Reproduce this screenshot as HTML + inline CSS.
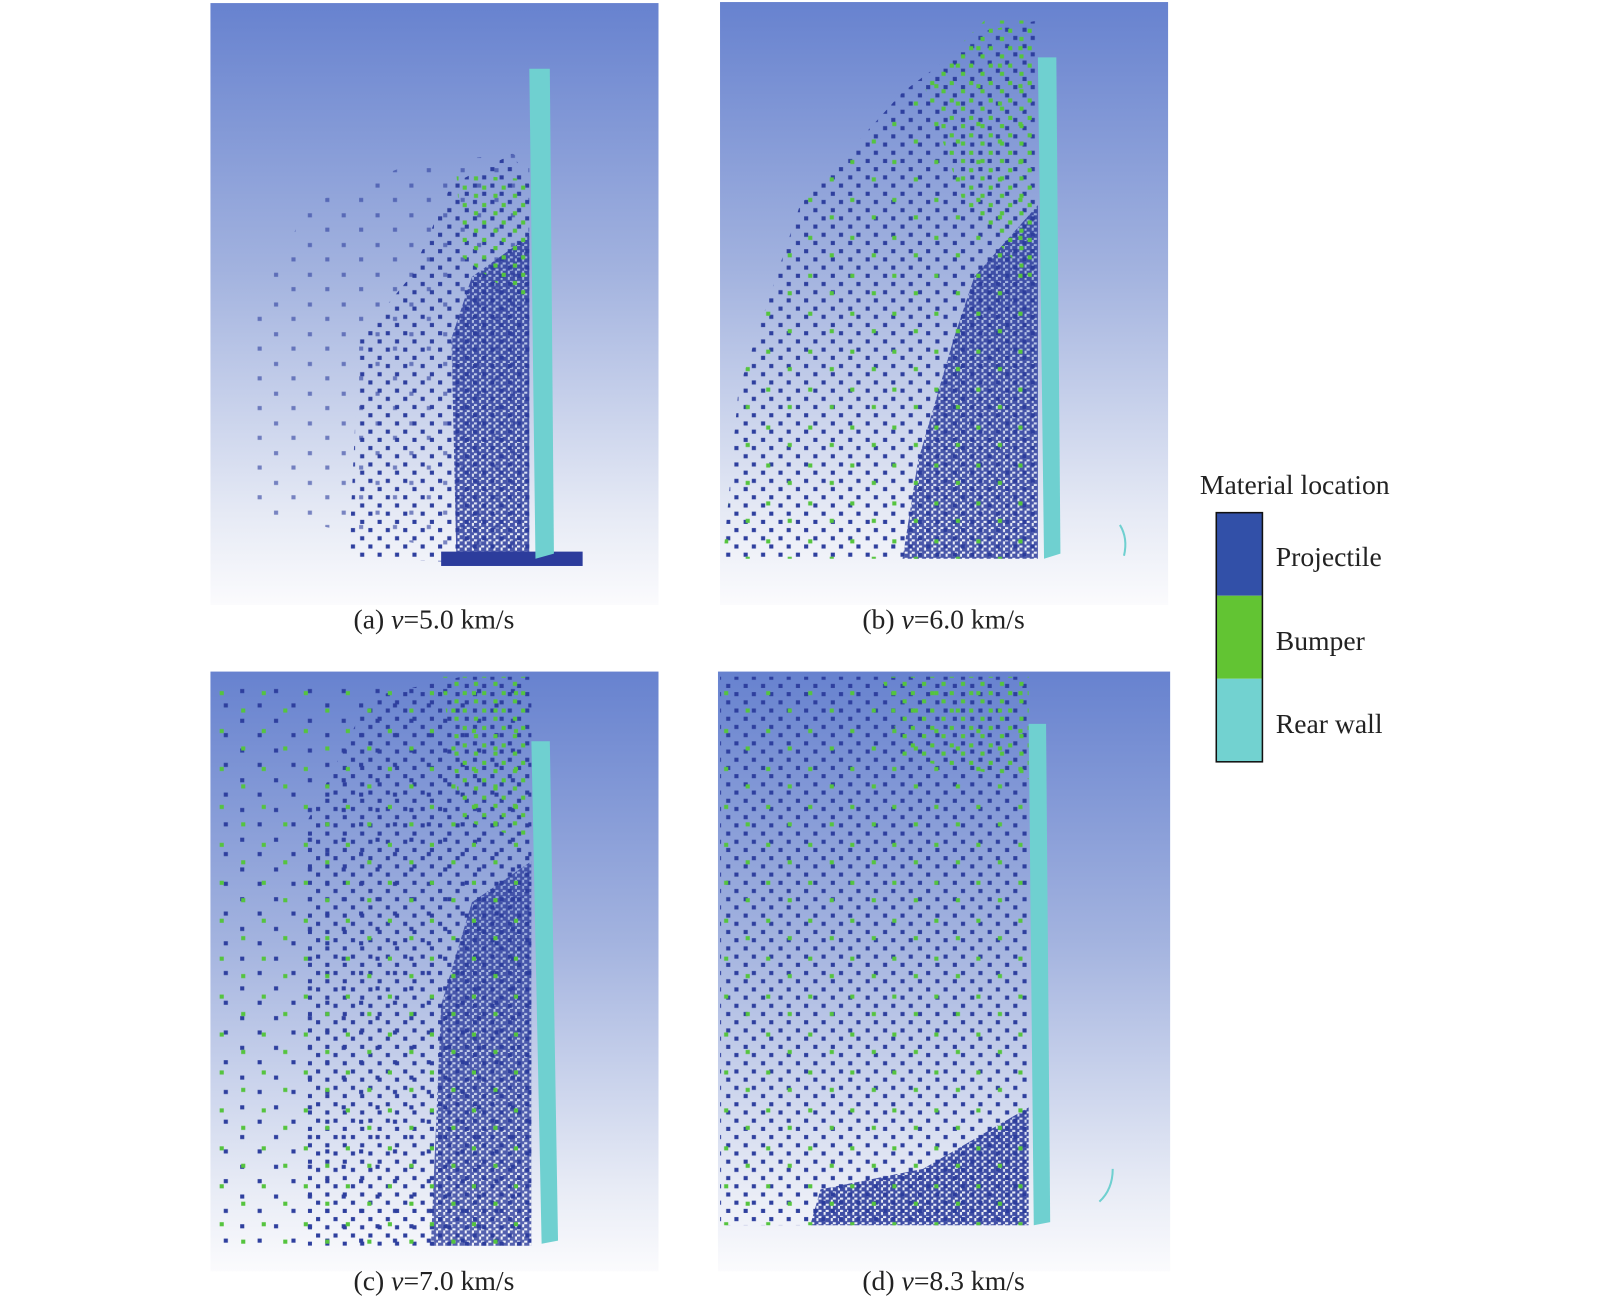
<!DOCTYPE html>
<html><head><meta charset="utf-8"><style>
html,body{margin:0;padding:0;background:#fff}
svg{display:block}
text{font-family:"Liberation Serif",serif;fill:#222}
</style></head><body>
<svg width="1600" height="1296" viewBox="0 0 1560 1264" xmlns="http://www.w3.org/2000/svg">
<defs>
<linearGradient id="bg" x1="0" y1="0" x2="0" y2="1">
<stop offset="0" stop-color="#6782cf"/><stop offset="0.45" stop-color="#a3b3df"/><stop offset="0.85" stop-color="#e6eaf5"/><stop offset="1" stop-color="#fbfbfd"/>
</linearGradient>
<pattern id="sp" width="17" height="16" patternUnits="userSpaceOnUse"><rect x="2" y="3" width="4" height="4" fill="#2e3f9e"/><rect x="11" y="11" width="4" height="4" fill="#2e3f9e"/></pattern>
<pattern id="vs" width="33" height="29" patternUnits="userSpaceOnUse"><rect x="3" y="5" width="4" height="4" fill="#2e3f9e"/><rect x="20" y="19" width="4" height="4" fill="#2e3f9e"/></pattern>
<pattern id="dn" width="7" height="6" patternUnits="userSpaceOnUse"><rect x="0" y="0" width="5" height="4" fill="#2c3c9c"/><rect x="3" y="3" width="4" height="3" fill="#2c3c9c"/></pattern>
<pattern id="gr" width="19" height="17" patternUnits="userSpaceOnUse"><rect x="6" y="2" width="4" height="4" fill="#55c43e"/><rect x="14" y="11" width="4" height="4" fill="#55c43e"/></pattern>
<pattern id="gs" width="41" height="37" patternUnits="userSpaceOnUse"><rect x="9" y="8" width="4" height="4" fill="#55c43e"/><rect x="30" y="25" width="4" height="4" fill="#55c43e"/></pattern>
</defs>

<!-- Panel a -->
<g>
<rect x="205" y="3" width="437" height="587" fill="url(#bg)"/>
<polygon points="240,500 250,300 300,200 400,160 500,150 516,160 516,550" fill="url(#vs)" opacity="0.6"/>
<polygon points="340,545 350,330 400,270 440,180 500,150 516,180 516,550" fill="url(#sp)"/>
<polygon points="445,550 440,330 460,270 516,230 516,550" fill="url(#dn)" opacity="0.85"/>
<rect x="430" y="538" width="138" height="14" fill="#2c3c9c"/>
<polygon points="445,170 516,175 516,300 450,250" fill="url(#gr)"/>
<polygon points="516,67 536,67 540,540 522,545" fill="#6fd0d0"/>
</g>
<text x="423" y="613" font-size="27" text-anchor="middle">(a) <tspan font-style="italic">v</tspan>=5.0 km/s</text>

<!-- Panel b -->
<g>
<rect x="702" y="2" width="437" height="588" fill="url(#bg)"/>
<polygon points="705,545 720,380 780,200 880,90 960,30 1012,20 1012,545" fill="url(#sp)"/>
<polygon points="880,545 895,450 930,330 950,270 1012,200 1012,545" fill="url(#dn)" opacity="0.85"/>
<polygon points="900,80 960,20 1012,20 1012,280 940,200" fill="url(#gr)"/>
<polygon points="705,545 720,380 780,200 880,90 960,30 1012,20 1012,545" fill="url(#gs)"/>
<polygon points="1012,56 1030,56 1034,540 1018,545" fill="#6fd0d0"/>
<path d="M1092,512 Q1100,525 1096,542" stroke="#6fd0d0" stroke-width="2" fill="none"/>
</g>
<text x="920" y="613" font-size="27" text-anchor="middle">(b) <tspan font-style="italic">v</tspan>=6.0 km/s</text>

<!-- Panel c -->
<g>
<rect x="205" y="655" width="437" height="585" fill="url(#bg)"/>
<rect x="207" y="665" width="311" height="550" fill="url(#vs)"/>
<polygon points="300,1215 300,800 360,680 450,660 518,660 518,1215" fill="url(#sp)"/>
<polygon points="420,1215 430,980 460,880 518,840 518,1215" fill="url(#dn)" opacity="0.8"/>
<polygon points="430,660 518,660 518,820 450,800" fill="url(#gr)"/>
<rect x="207" y="665" width="311" height="550" fill="url(#gs)"/>
<polygon points="518,723 536,723 544,1210 528,1213" fill="#6fd0d0"/>
</g>
<text x="423" y="1258" font-size="27" text-anchor="middle">(c) <tspan font-style="italic">v</tspan>=7.0 km/s</text>

<!-- Panel d -->
<g>
<rect x="700" y="655" width="441" height="585" fill="url(#bg)"/>
<rect x="702" y="660" width="301" height="535" fill="url(#sp)"/>
<polygon points="790,1195 800,1160 900,1140 1003,1080 1003,1195" fill="url(#dn)" opacity="0.9"/>
<rect x="702" y="660" width="301" height="535" fill="url(#gs)"/>
<polygon points="860,660 1003,660 1003,760 880,740" fill="url(#gr)"/>
<polygon points="1003,706 1020,706 1024,1192 1008,1195" fill="#6fd0d0"/>
<path d="M1085,1140 Q1085,1160 1072,1172" stroke="#6fd0d0" stroke-width="2" fill="none"/>
</g>
<text x="920" y="1258" font-size="27" text-anchor="middle">(d) <tspan font-style="italic">v</tspan>=8.3 km/s</text>

<!-- Legend -->
<g>
<text x="1170" y="482" font-size="27">Material location</text>
<rect x="1186" y="500" width="45" height="81" fill="#3250a8"/>
<rect x="1186" y="581" width="45" height="81" fill="#62c433"/>
<rect x="1186" y="662" width="45" height="81" fill="#72d2d0"/>
<rect x="1186" y="500" width="45" height="243" fill="none" stroke="#111" stroke-width="1.5"/>
<text x="1244" y="552" font-size="27">Projectile</text>
<text x="1244" y="634" font-size="27">Bumper</text>
<text x="1244" y="715" font-size="27">Rear wall</text>
</g>
</svg>
</body></html>
